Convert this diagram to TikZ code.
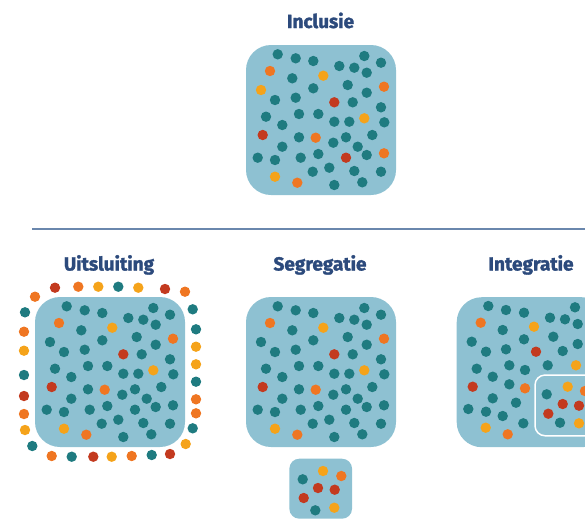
\documentclass[tikz,border=0pt]{standalone}
\usepackage{fontspec}
\setmainfont{Fira Sans}
\newfontfamily\titlefont{Fira Sans}[BoldFeatures={FakeBold=1.6}]
\definecolor{boxblue}{HTML}{8EC1D2}
\definecolor{dteal}{HTML}{1F7B80}
\definecolor{dorange}{HTML}{EF7622}
\definecolor{dyellow}{HTML}{F5A31A}
\definecolor{dred}{HTML}{C33A1F}
\definecolor{titleblue}{HTML}{2C4A7C}
\definecolor{sepblue}{HTML}{6A87AD}
\newcommand\mydots[2]{\foreach \x/\y in {#2} \fill[#1] (\x,\y) circle[radius=5.2pt];}
\newcommand\basepattern[1]{%
  \mydots{dteal}{31.7/9.3,49.7/13.3,67.3/16,118.3/11,135/17.7,93.3/21,108.3/22.7,120.7/27.7,46.3/33.3,67.3/43.3,101.7/40,120.7/47.7,29/55,49.7/52.7,106.7/57.3,135/62.3,20/71.7,53/69,72.3/69,36.3/80,88.3/76.7,103.3/76.7,138.3/77.3,53/92.3,100/92.3,87.3/97.7,126.3/90,36.3/101.7,111.7/101.7,11.7/112.7,29/115,54.7/112.7,72.3/109,120.7/110,83.3/122.7,66.7/126.7,108.3/126,135/126.7,88.3/140,116.3/137.3}
  \mydots{dorange}{24/26,138/41.7,69.7/92.7,51.3/137.7}
  \mydots{dyellow}{77.3/30.7,118.3/73.3,29/131.7}
  \mydots{dred}{88.3/57.3,16.7/90}
  \ifnum#1=1
    \fill[dyellow] (15,45) circle[radius=5.2pt];
    \fill[dred] (100,112.7) circle[radius=5.2pt];
    \fill[dorange] (138,108.3) circle[radius=5.2pt];
  \else
    \mydots{dteal}{15/45,100/112.7,138/108.3}
  \fi}
\begin{document}
\begin{tikzpicture}[x=1pt,y=-1pt,
  bigbox/.style={fill=boxblue,draw=none,rounded corners=25pt,minimum width=150pt,minimum height=150pt,inner sep=0pt},
  smallbox/.style={fill=boxblue,draw=none,rounded corners=10pt,inner sep=0pt},
  innerbox/.style={fill=boxblue,draw=white,line width=1.5pt,rounded corners=10pt,inner sep=0pt},
  titletext/.style={text=titleblue,font=\titlefont\fontsize{19}{22}\selectfont\bfseries,anchor=base,inner sep=0pt},
  sepline/.style={draw=sepblue,line width=1.5pt}]
\useasboundingbox (0,0) rectangle (585,520);
\clip (0,0) rectangle (585,520);
% titles
\node[titletext] (tinc) at (320.5,28) {Inclusie};
\node[titletext] (tuit) at (109,270.5) {Uitsluiting};
\node[titletext] (tseg) at (320,270.5) {Segregatie};
\node[titletext] (tint) at (531,270.5) {Integratie};
% separator
\coordinate (l1) at (32,228.8);
\coordinate (l2) at (585,228.8);
\draw[sepline] (l1) -- (l2);
% boxes
\node[bigbox] (binc) at (321,120) {};
\node[bigbox] (buit) at (110,372) {};
\node[bigbox] (bseg) at (321,372) {};
\node[bigbox] (bint) at (531.7,372.2) {};
\node[smallbox,minimum width=62.7pt,minimum height=60pt] (bsmall) at (320.7,488.7) {};
\node[innerbox,minimum width=77pt,minimum height=60.7pt] (binner) at (573.5,405.4) {};
% Inclusie
\begin{scope}[shift={(246,45)}]\basepattern{1}\end{scope}
% Uitsluiting interior
\begin{scope}[shift={(35,297)}]\basepattern{0}\end{scope}
% Segregatie
\begin{scope}[shift={(246,297)}]\basepattern{0}\end{scope}
% Uitsluiting ring
\mydots{dorange}{35/296.7,78.3/286.7,185/291.7,24/331.7,24/414,51.7/456,131.7/456,196/399.3,196/413.3}
\mydots{dred}{55/287.7,165/289,24/396,93.3/456.7,170/454}
\mydots{dyellow}{98.3/286.7,138.3/287.7,24/350.7,25/430,111.7/456.7,185.7/444,196/346.7,196/364.3}
\mydots{dteal}{118.3/286.7,25/312.3,24/375,32.3/446,71.7/456.7,151.7/455,192.7/309.3,196/329.3,196/381.7,192.7/428.3}
% Segregatie small box
\mydots{dyellow}{323/471,334.3/507.7}
\mydots{dorange}{341.3/476}
\mydots{dteal}{302.7/479.3,315.3/510.3}
\mydots{dred}{318/488,334.7/489.7,303.7/498}
% Integratie
\mydots{dteal}{488.3/306,506/310,524/312.7,575/307.3,550/317.7,565/319.3,577.7/324,502.7/330,471.7/341.7,524/339.3,553.3/336.7,577.7/344,486/351.7,506/349.3,562.7/351,476.7/368.7,509.3/365.3,525/370,547.7/365.3,492.7/376.7,509.3/384.3,492.7/398.3,516/402.7,468.3/409,486/411.7,502.7/416,523.3/423.3,546.7/394.3,560/422.7}
\mydots{dorange}{480.7/322.7,525/388.3,507.7/434.3,585/391}
\mydots{dyellow}{534/326.7,576/365.3,485.7/427.7,567.7/386.7,579/423.3}
\mydots{dred}{536/351.7,472.7/386.7,562.7/404,579/405.7,548.3/413.7}
\end{tikzpicture}
\end{document}
